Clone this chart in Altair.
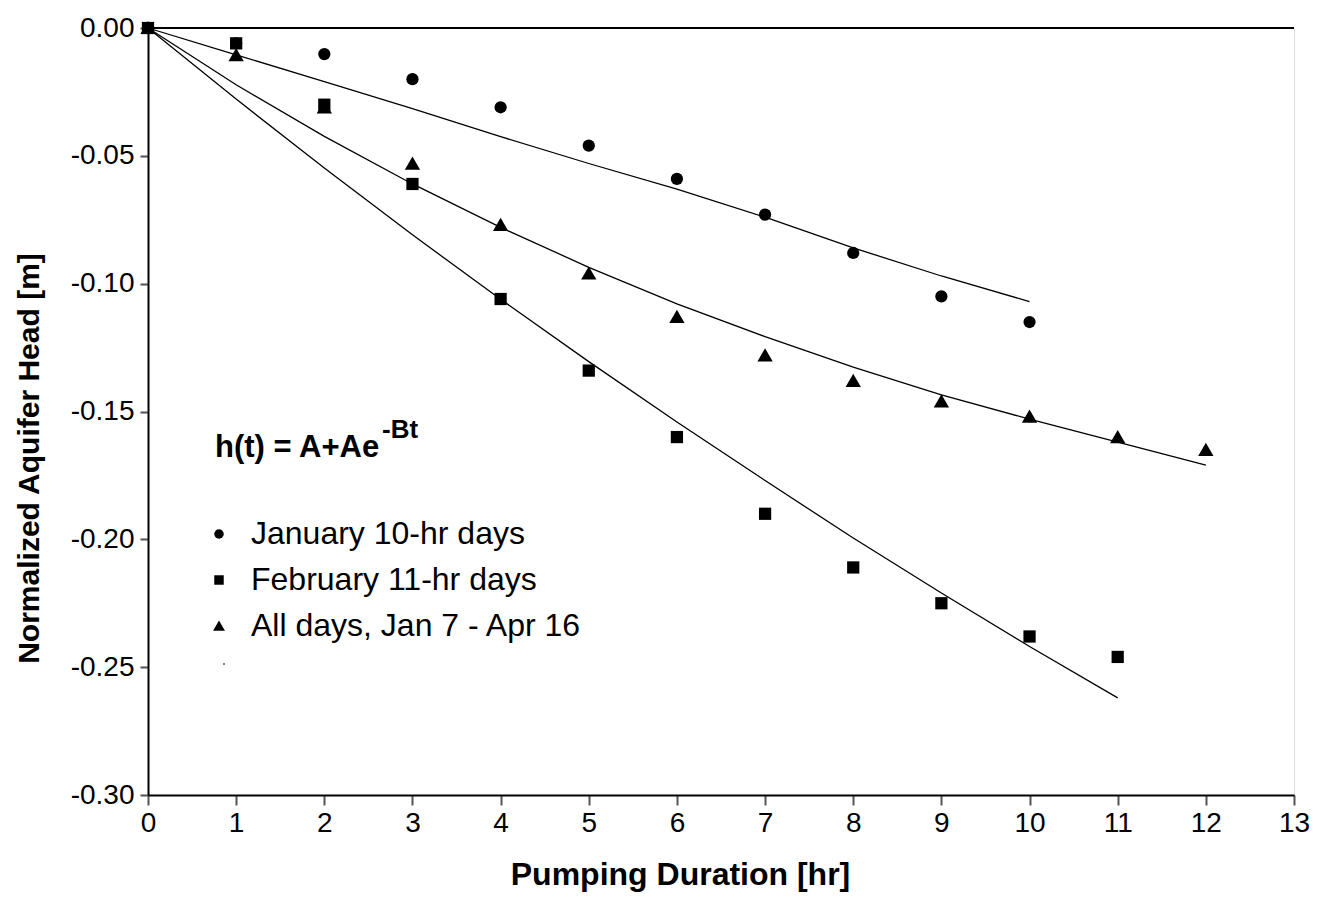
import altair as alt
import pandas as pd

# ---- data ----
jan_hours = list(range(0, 11))
jan_obs = [0.0, -0.006, -0.0102, -0.020, -0.031, -0.046, -0.059, -0.073, -0.088, -0.105, -0.115]
feb_hours = list(range(0, 12))
feb_obs = [0.0, -0.006, -0.030, -0.061, -0.106, -0.134, -0.160, -0.190, -0.211, -0.225, -0.238, -0.246]
all_hours = list(range(0, 13))
all_obs = [0.0, -0.0106, -0.031, -0.053, -0.077, -0.096, -0.113, -0.128, -0.138, -0.146, -0.152, -0.160, -0.165]

jan_fit = [0.0, -0.0105, -0.021, -0.0315, -0.0425, -0.053, -0.063, -0.074, -0.086, -0.097, -0.107]
feb_fit = [0.0, -0.0278, -0.0548, -0.0809, -0.1061, -0.1305, -0.1541, -0.1770, -0.1995, -0.2210, -0.2419, -0.2620]
all_fit = [0.0, -0.0222, -0.0424, -0.0610, -0.0780, -0.0936, -0.1079, -0.1207, -0.1326, -0.1435, -0.1530, -0.1620, -0.1710]

series_names = ["January 10-hr days", "February 11-hr days", "All days, Jan 7 - Apr 16"]
series_shapes = ["circle", "square", "M-1.25,1L0,-1.15L1.25,1Z"]
x_ticks = list(range(0, 14))
y_ticks = [-0.30, -0.25, -0.20, -0.15, -0.10, -0.05, 0.0]

FONT = "Liberation Sans"
W, H = 1146, 767

obs = pd.concat([
    pd.DataFrame({"t": jan_hours, "h": jan_obs, "series": series_names[0]}),
    pd.DataFrame({"t": feb_hours, "h": feb_obs, "series": series_names[1]}),
    pd.DataFrame({"t": all_hours, "h": all_obs, "series": series_names[2]}),
])
fits = pd.concat([
    pd.DataFrame({"t": jan_hours, "h": jan_fit, "series": series_names[0]}),
    pd.DataFrame({"t": feb_hours, "h": feb_fit, "series": series_names[1]}),
    pd.DataFrame({"t": all_hours, "h": all_fit, "series": series_names[2]}),
])

xscale = alt.Scale(domain=[0, 13], nice=False, zero=False)
yscale = alt.Scale(domain=[-0.30, 0.0], nice=False, zero=False)

x_axis = alt.Axis(
    values=x_ticks, format="d", title="Pumping Duration [hr]", grid=False,
    labelFontSize=28, labelFont=FONT, labelColor="black", labelPadding=4, labelFlush=False,
    tickSize=10, tickWidth=2, tickColor="#555",
    domainColor="black", domainWidth=2,
    titleFont=FONT, titleFontSize=32, titleFontWeight="bold", titleColor="black",
    titlePadding=22, titleX=532, titleAnchor="start", titleAlign="center",
)
y_axis = alt.Axis(
    values=y_ticks, title="Normalized Aquifer Head [m]", grid=False,
    labelExpr="replace(format(datum.value, '.2f'), '\u2212', '-')",
    labelFontSize=28, labelFont=FONT, labelColor="black", labelPadding=6, labelFlush=False,
    tickSize=8, tickWidth=2, tickColor="#555",
    domainColor="black", domainWidth=2,
    titleFont=FONT, titleFontSize=30, titleFontWeight="bold", titleColor="black",
    titlePadding=26, titleY=430, titleAnchor="start", titleAlign="center",
)

lines = alt.Chart(fits).mark_line(color="black", strokeWidth=1.3).encode(
    x=alt.X("t:Q", scale=xscale, axis=x_axis),
    y=alt.Y("h:Q", scale=yscale, axis=y_axis),
    detail="series:N",
)

points = alt.Chart(obs).mark_point(filled=True, opacity=1, color="black", size=150).encode(
    x=alt.X("t:Q", scale=xscale),
    y=alt.Y("h:Q", scale=yscale),
    shape=alt.Shape(
        "series:N",
        scale=alt.Scale(domain=series_names, range=series_shapes),
        legend=alt.Legend(
            title=None, orient="none", legendX=55, legendY=490,
            labelFont=FONT, labelFontSize=32, labelColor="black", labelLimit=600,
            symbolFillColor="black", symbolStrokeColor="black", symbolSize=90,
            rowPadding=14, labelOffset=16,
        ),
    ),
)

top_border = alt.Chart(pd.DataFrame({"a": [0]})).mark_rule(color="black", strokeWidth=2).encode(
    x=alt.value(0), x2=alt.value(W), y=alt.value(0)
)

formula = alt.Chart(pd.DataFrame({"a": [0]})).mark_text(
    text="h(t) = A+Ae", font=FONT, fontSize=31, fontWeight="bold",
    align="left", baseline="alphabetic", color="black",
).encode(x=alt.value(67), y=alt.value(429))

sup = alt.Chart(pd.DataFrame({"a": [0]})).mark_text(
    text="-Bt", font=FONT, fontSize=26, fontWeight="bold",
    align="left", baseline="alphabetic", color="black",
).encode(x=alt.value(234), y=alt.value(410))

dot = alt.Chart(pd.DataFrame({"a": [0]})).mark_square(color="#888", size=4, opacity=1).encode(
    x=alt.value(76), y=alt.value(636)
)

chart = alt.layer(lines, points, top_border, formula, sup, dot).properties(
    width=W, height=H,
    autosize=alt.AutoSizeParams(type="none"),
    padding={"left": 140, "top": 20, "right": 18, "bottom": 115},
).configure_view(stroke=None).configure(background="white")

chart.save("out.html", embed_options={"renderer": "svg", "actions": False})
